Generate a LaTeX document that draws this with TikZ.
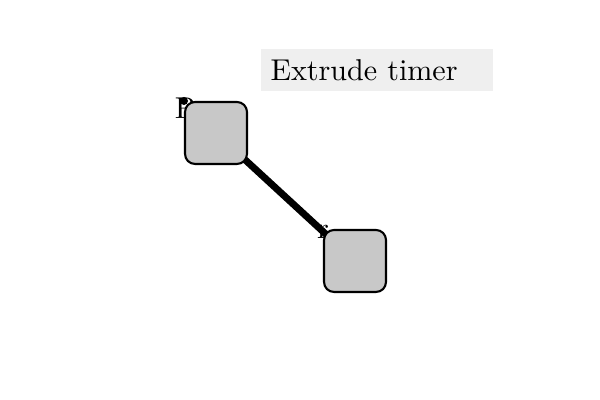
\documentclass[tikz,border=0pt]{standalone}
\usepackage{tikz}
\usetikzlibrary{backgrounds}
\definecolor{blockgray}{HTML}{C8C8C8}
\definecolor{titlegray}{HTML}{EFEFEF}
\tikzset{
  block/.style={draw,fill=blockgray,line width=0.7pt,rounded corners=3.3pt,minimum size=0.723cm,inner sep=0pt},
  wire/.style={line width=2.3pt},
  title/.style={fill=titlegray,anchor=west,minimum height=0.455cm,inner xsep=3.3pt,text width=2.485cm,align=left},
  portlbl/.style={inner sep=0pt}
}
\begin{document}
\begin{tikzpicture}[x=0.011667cm,y=-0.011667cm]
  \useasboundingbox (0,0) rectangle (600,400);
  \node[title](ttl) at (260,70) {Extrude timer};

  \node[block](b1) at (216,133) {};
  \node[block](b2) at (355,261) {};

  % wire and labels sit behind the blocks
  \begin{scope}[on background layer]
    \draw[wire] (b1.center) -- (b2.center);
    \node[portlbl](p) at (185,108) {P};
    \node[portlbl](r) at (323,232) {r};
  \end{scope}

  \fill (b1.north west) circle (4);
\end{tikzpicture}
\end{document}
